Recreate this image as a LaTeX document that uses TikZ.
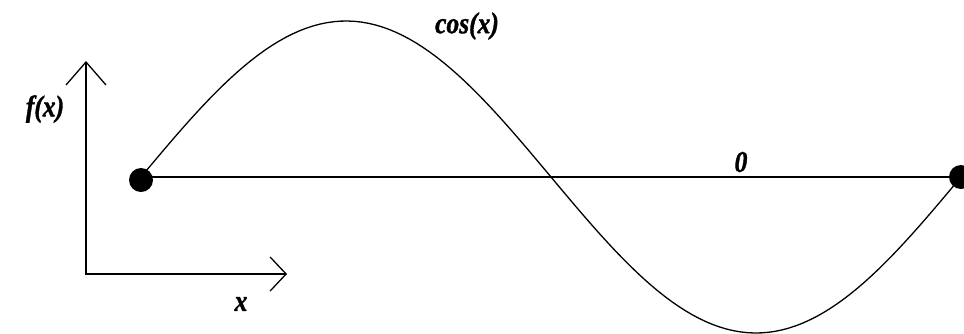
\documentclass[tikz,border=0pt]{standalone}
\usepackage{fontspec}
\newfontfamily\lblfont[FakeStretch=0.85,BoldItalicFeatures={FakeBold=1.2}]{Liberation Serif}
\usetikzlibrary{arrows.meta}
\tikzset{
  dot/.style={circle,fill=black,inner sep=0pt,minimum size=24pt},
  lbl/.style={font=\lblfont\fontsize{30}{32}\selectfont\bfseries\itshape,inner sep=0pt},
  curve/.style={line width=1.3pt},
  axisline/.style={line width=1.3pt,{Straight Barb[length=23pt,width=40pt,line width=1.3pt]}-{Straight Barb[length=16pt,width=34pt,line width=1.3pt]}}
}
\begin{document}
\begin{tikzpicture}[x=1pt,y=-1pt]
\useasboundingbox (0,0) rectangle (964,333);
\clip (0,0) rectangle (964,333);
% axes
\coordinate (ytop) at (86,61);
\coordinate (origin) at (86,274);
\coordinate (xend) at (287,274);
\draw[axisline] (ytop) -- (origin) -- (xend);
% dots
\node[dot] (L) at (141,180) {};
\node[dot] (R) at (961,177) {};
\coordinate (Lc) at (141,177);
\coordinate (Rc) at (961,177);
\draw[curve] (Lc) -- (Rc);
% sine
\draw[curve] plot[domain=0:360,samples=120] ({141+2.27778*\x},{177-156*sin(\x)});
% labels
\node[lbl] (fx) at (45,109) {f(x)};
\node[lbl] (cosx) at (467,26) {cos(x)};
\node[lbl] (zero) at (741,162) {0};
\node[lbl] (xl) at (241,304) {x};
\end{tikzpicture}
\end{document}
